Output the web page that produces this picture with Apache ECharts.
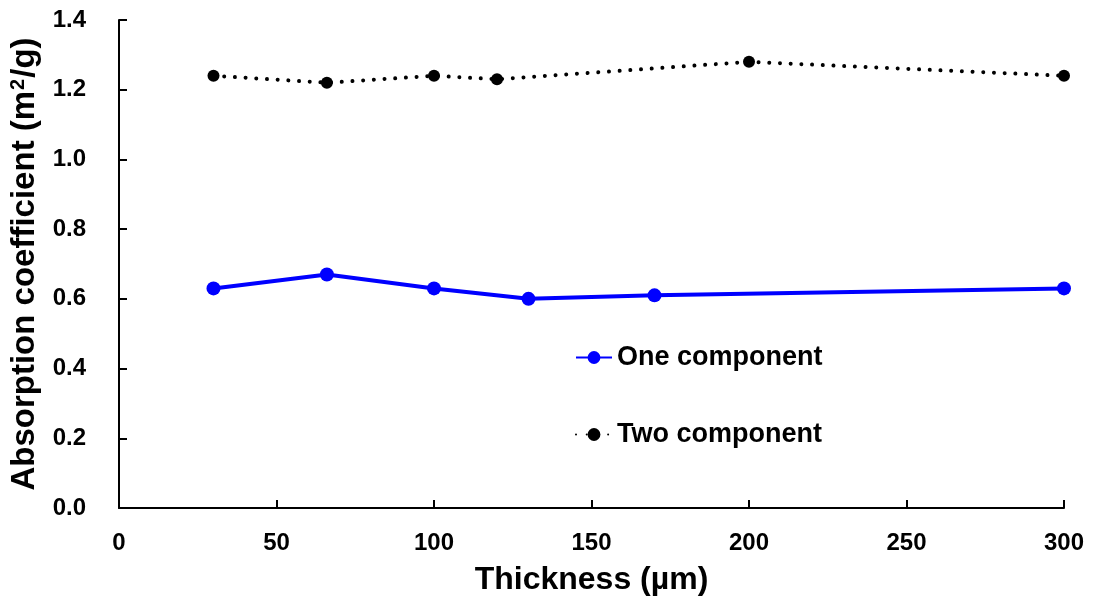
<!DOCTYPE html>
<html>
<head>
<meta charset="utf-8">
<script src="https://cdn.jsdelivr.net/npm/echarts@6/dist/echarts.min.js"></script>
<style>
  html, body { margin: 0; padding: 0; background: #fff; }
  #chart { width: 1096px; height: 601px; }
</style>
</head>
<body>
<div id="chart"></div>
<script>
// Film thickness (µm) and absorption coefficient (m²/g) for each model
const oneThickness = [30, 66, 100, 130, 170, 300];
const oneValues = [0.63, 0.67, 0.63, 0.60, 0.61, 0.63];
const twoThickness = [30, 66, 100, 120, 200, 300];
const twoValues = [1.24, 1.22, 1.24, 1.23, 1.28, 1.24];

const seriesNames = ['One component', 'Two component'];
const xTitle = 'Thickness (µm)';
// rich-text markup: the "2" of m² is drawn as a raised, smaller digit
const yTitle = 'Absorption coefficient (m{sup|2}/g)';

const pairs = (xs, ys) => xs.map((x, i) => [x, ys[i]]);
const FONT = '"Liberation Sans", Arial, sans-serif';

const chart = echarts.init(document.getElementById('chart'), null, { renderer: 'canvas' });
chart.setOption({
  backgroundColor: '#ffffff',
  animation: false,
  textStyle: { fontFamily: FONT },
  grid: { left: 119, right: 32, top: 20, bottom: 93, containLabel: false },
  legend: {
    orient: 'vertical',
    left: 570,
    top: 339,
    itemGap: 50,
    itemWidth: 36,
    itemHeight: 16,
    textStyle: { fontFamily: FONT, fontSize: 27, fontWeight: 'bold', color: '#000' },
    data: seriesNames
  },
  xAxis: {
    type: 'value',
    min: 0, max: 300, interval: 50,
    name: xTitle,
    nameLocation: 'middle',
    nameGap: 56,
    nameTextStyle: { fontFamily: FONT, fontSize: 32, fontWeight: 'bold', color: '#000' },
    axisLine: { show: true, lineStyle: { color: '#000', width: 2 } },
    axisTick: { show: true, inside: true, length: 8, lineStyle: { color: '#000', width: 2 } },
    axisLabel: { fontFamily: FONT, fontSize: 24, fontWeight: 'bold', color: '#000', margin: 23 },
    splitLine: { show: false }
  },
  yAxis: {
    type: 'value',
    min: 0, max: 1.4, interval: 0.2,
    name: yTitle,
    nameLocation: 'middle',
    nameGap: 74,
    nameTextStyle: {
      fontFamily: FONT, fontSize: 33, fontWeight: 'bold', color: '#000',
      rich: {
        sup: { fontFamily: FONT, fontSize: 20, fontWeight: 'bold', color: '#000', verticalAlign: 'top', padding: [0, 1, 12, 1] }
      }
    },
    axisLine: { show: true, lineStyle: { color: '#000', width: 2 } },
    axisTick: { show: true, inside: true, length: 8, lineStyle: { color: '#000', width: 2 } },
    axisLabel: {
      fontFamily: FONT, fontSize: 24, fontWeight: 'bold', color: '#000', margin: 33,
      formatter: v => v.toFixed(1)
    },
    splitLine: { show: false }
  },
  series: [
    {
      name: seriesNames[0],
      type: 'line',
      data: pairs(oneThickness, oneValues),
      symbol: 'circle',
      symbolSize: 14,
      color: '#0000ff',
      itemStyle: { color: '#0000ff' },
      lineStyle: { color: '#0000ff', width: 4 }
    },
    {
      name: seriesNames[1],
      type: 'line',
      data: pairs(twoThickness, twoValues),
      symbol: 'circle',
      symbolSize: 12,
      color: '#000000',
      itemStyle: { color: '#000000' },
      lineStyle: { color: '#000000', width: 4, type: [0.01, 10.7], cap: 'round' }
    }
  ]
});
</script>
</body>
</html>
